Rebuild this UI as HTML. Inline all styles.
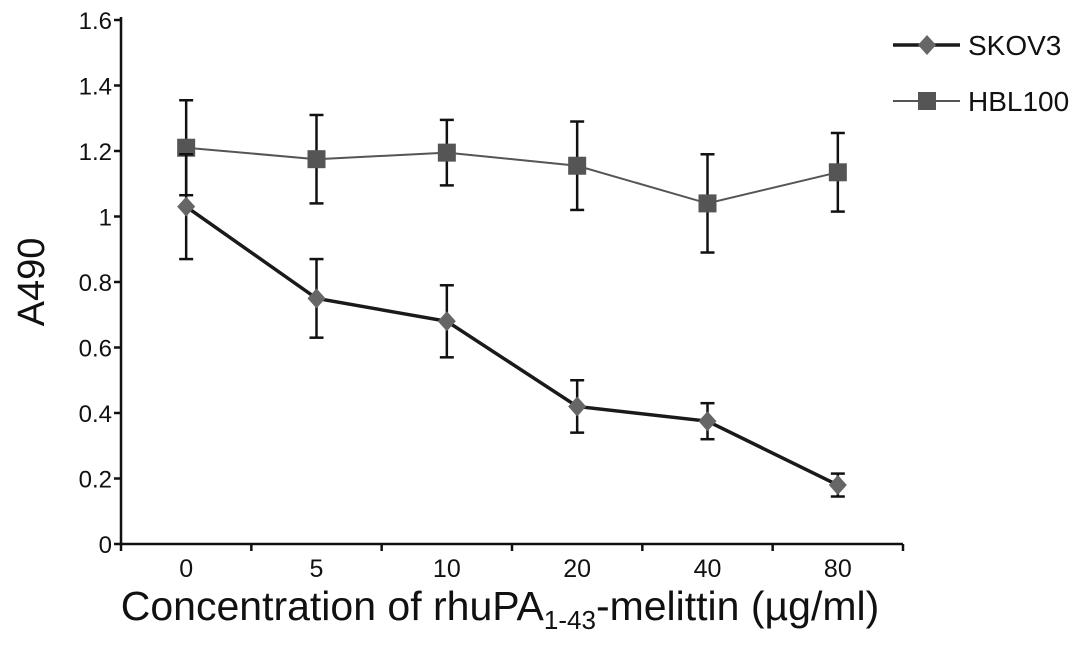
<!DOCTYPE html>
<html><head><meta charset="utf-8"><style>
html,body{margin:0;padding:0;background:#fff;}
svg{display:block;font-family:"Liberation Sans",sans-serif;}
</style></head><body>
<svg id="chart" width="1087" height="652"></svg>
<script>
const categories = ["0","5","10","20","40","80"];
const skov3 = [1.03, 0.75, 0.68, 0.42, 0.375, 0.18];
const skov3Err = [0.16, 0.12, 0.11, 0.08, 0.055, 0.035];
const hbl100 = [1.21, 1.175, 1.195, 1.155, 1.04, 1.135];
const hbl100Err = [0.145, 0.135, 0.10, 0.135, 0.15, 0.12];
const yTicks = [0, 0.2, 0.4, 0.6, 0.8, 1, 1.2, 1.4, 1.6];

const NS = "http://www.w3.org/2000/svg";
const svg = document.getElementById('chart');
const X0 = 121, X1 = 903, Y0 = 544, Y1 = 20;
const band = (X1 - X0) / categories.length;
function xs(i){ return X0 + band * (i + 0.5); }
function ys(v){ return Y0 - (v / 1.6) * (Y0 - Y1); }
function mk(tag, attrs, parent){
  const e = document.createElementNS(NS, tag);
  for (const k in attrs) e.setAttribute(k, attrs[k]);
  (parent || svg).appendChild(e);
  return e;
}
const yAxis = mk('line',{x1:X0,y1:Y1-3,x2:X0,y2:Y0,stroke:'#111','stroke-width':2.5});


const xAxis = mk('line',{x1:X0,y1:Y0,x2:X1,y2:Y0,stroke:'#111','stroke-width':2.5});


yTicks.forEach(v=>{
  mk('line',{x1:X0-7,y1:ys(v),x2:X0,y2:ys(v),stroke:'#111','stroke-width':2.5});
  const t = mk('text',{x:X0-9,y:ys(v)+9,'text-anchor':'end','font-size':24,fill:'#111'});
  t.textContent = String(v);
  
  
});
for (let i=0;i<=categories.length;i++){
  mk('line',{x1:X0+band*i,y1:Y0,x2:X0+band*i,y2:Y0+7,stroke:'#111','stroke-width':2.5});
}
categories.forEach((c,i)=>{
  const t = mk('text',{x:xs(i),y:Y0+33,'text-anchor':'middle','font-size':25,fill:'#111'});
  t.textContent = c;
  
  
});
const yt = mk('text',{x:0,y:0,'text-anchor':'middle','font-size':38,fill:'#111',transform:'translate(44,282) rotate(-90)'});
yt.textContent = 'A490';


const xt = mk('text',{x:500,y:620,'text-anchor':'middle','font-size':41,fill:'#111'});
xt.innerHTML = 'Concentration of rhuPA<tspan font-size="26" dy="9">1-43</tspan><tspan dy="-9">-melittin (µg/ml)</tspan>';



function series(vals, errs, name, lineColor, lw, marker){
  const g = mk('g',{});
  
  
  vals.forEach((v,i)=>{
    const x = xs(i), top = ys(v+errs[i]), bot = ys(v-errs[i]);
    mk('line',{x1:x,y1:top,x2:x,y2:bot,stroke:'#111','stroke-width':2.5},g);
    mk('line',{x1:x-7,y1:top,x2:x+7,y2:top,stroke:'#111','stroke-width':2.5},g);
    mk('line',{x1:x-7,y1:bot,x2:x+7,y2:bot,stroke:'#111','stroke-width':2.5},g);
  });
  const pl = mk('polyline',{points:vals.map((v,i)=>xs(i)+','+ys(v)).join(' '),fill:'none',stroke:lineColor,'stroke-width':lw},g);
  
  
  vals.forEach((v,i)=>{
    const x = xs(i), y = ys(v);
    let m;
    if (marker==='square') m = mk('rect',{x:x-9,y:y-9,width:18,height:18,fill:'#555'},g);
    else m = mk('polygon',{points:`${x},${y-10} ${x+9},${y} ${x},${y+10} ${x-9},${y}`,fill:'#666'},g);
    
    
  });
}
series(hbl100, hbl100Err, 'hbl100', '#555', 2, 'square');
series(skov3, skov3Err, 'skov3', '#1a1a1a', 3.5, 'diamond');

const lg = mk('g',{});


mk('line',{x1:893,y1:45,x2:960,y2:45,stroke:'#1a1a1a','stroke-width':3.5},lg);
mk('polygon',{points:'927,35 936,45 927,55 918,45',fill:'#666'},lg);
const l1 = mk('text',{x:968,y:55,'font-size':28,fill:'#111'},lg);
l1.textContent='SKOV3';


mk('line',{x1:893,y1:101,x2:960,y2:101,stroke:'#555','stroke-width':2},lg);
mk('rect',{x:918,y:92,width:18,height:18,fill:'#555'},lg);
const l2 = mk('text',{x:968,y:111,'font-size':28,fill:'#111'},lg);
l2.textContent='HBL100';


</script>
</body></html>
